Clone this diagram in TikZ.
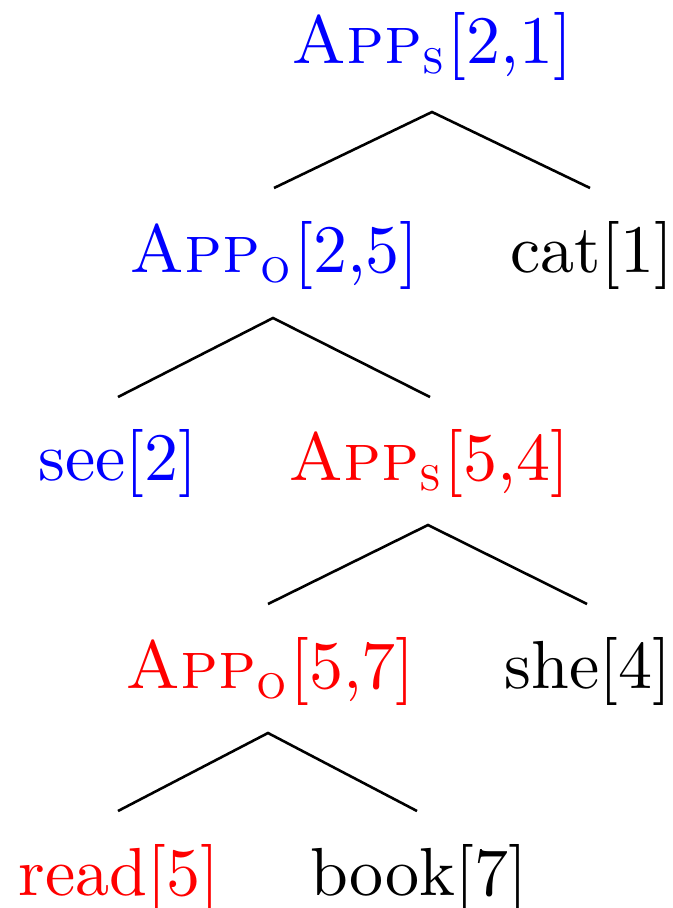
\documentclass[tikz,border=0pt]{standalone}
\begin{document}
\begin{tikzpicture}[x=0.147pt,y=-0.147pt,
  lbl/.style={anchor=base,inner sep=0pt,font=\normalsize},
  edge/.style={draw=black,line width=0.38pt}]
\useasboundingbox (0,0) rectangle (673,908);
\newcommand{\AppS}{\textsc{App}$_{\mbox{\scriptsize\textsc{s}}}$}
\newcommand{\AppO}{\textsc{App}$_{\mbox{\scriptsize\textsc{o}}}$}
% level 0
\node[lbl,text=blue] (r) at (432,63) {\AppS[2,1]};
% level 1
\node[lbl,text=blue] (a1) at (274,272) {\AppO[2,5]};
\node[lbl] (cat) at (592,272) {cat[1]};
% level 2
\node[lbl,text=blue] (see) at (118,480) {see[2]};
\node[lbl,text=red] (a2) at (429,480) {\AppS[5,4]};
% level 3
\node[lbl,text=red] (a3) at (270,688) {\AppO[5,7]};
\node[lbl] (she) at (588,688) {she[4]};
% level 4
\node[lbl,text=red] (read) at (119,895) {read[5]};
\node[lbl] (book) at (419,895) {book[7]};
% connector points
\coordinate (r-t) at (432,112);
\coordinate (a1-t) at (274,188);
\coordinate (cat-t) at (590,188);
\coordinate (a1-b) at (273,318);
\coordinate (see-t) at (118,397);
\coordinate (a2-t) at (430,397);
\coordinate (a2-b) at (428,525);
\coordinate (a3-t) at (268,604);
\coordinate (she-t) at (587,604);
\coordinate (a3-b) at (268,733);
\coordinate (read-t) at (118,811);
\coordinate (book-t) at (417,811);
\draw[edge] (a1-t) -- (r-t) -- (cat-t);
\draw[edge] (see-t) -- (a1-b) -- (a2-t);
\draw[edge] (a3-t) -- (a2-b) -- (she-t);
\draw[edge] (read-t) -- (a3-b) -- (book-t);
\end{tikzpicture}
\end{document}
